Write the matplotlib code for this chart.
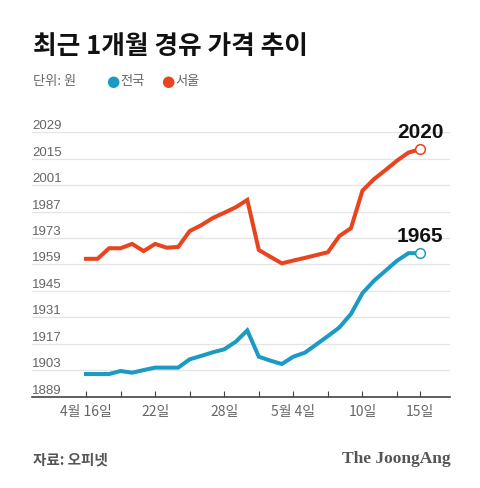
import matplotlib.pyplot as plt
import pandas as pd

plt.rcParams['font.family'] = ['Noto Sans CJK KR', 'DejaVu Sans']

# 날짜 (4월 16일 ~ 5월 15일, 매일)
dates = pd.date_range('2022-04-16', '2022-05-15')

# 서울 경유 가격 (원)
seoul = [1962, 1962, 1967.6, 1967.6, 1969.9, 1966.1, 1969.9, 1967.9, 1968.3, 1976.7,
         1979.8, 1983.6, 1986.4, 1989.3, 1993.2, 1966.7, 1963.1, 1959.6, 1961.1, 1962.5,
         1964, 1965.5, 1974.1, 1978.2, 1998.1, 2004.2, 2009, 2014, 2018.3, 2020]

# 전국 경유 가격 (원)
national = [1901, 1901, 1901, 1902.6, 1901.7, 1903.1, 1904.4, 1904.4, 1904.4, 1908.8,
            1910.6, 1912.5, 1914.1, 1918.1, 1924.1, 1910.2, 1908.1, 1906.3, 1910.2, 1912.3,
            1916.7, 1921.1, 1925.7, 1932.8, 1943.8, 1950.4, 1955.7, 1961, 1965, 1965]

yticks = [1889, 1903, 1917, 1931, 1945, 1959, 1973, 1987, 2001, 2015, 2029]
xtick_dates = pd.to_datetime(['2022-04-16', '2022-04-19', '2022-04-22', '2022-04-25',
                              '2022-04-28', '2022-05-01', '2022-05-04', '2022-05-07',
                              '2022-05-10', '2022-05-13', '2022-05-15'])
xtick_labels = ['4월 16일', '', '22일', '', '28일', '', '5월 4일', '', '10일', '', '15일']

red = '#e8441e'
blue = '#1b9bc4'
grey = '#666666'

W, H = 480, 488
fig = plt.figure(figsize=(W / 100, H / 100), dpi=100)

# 축 위치 (픽셀 기준)
left, right, top, bottom = 32, 450, 132.3, 396.7
ax = fig.add_axes([left / W, 1 - bottom / H, (right - left) / W, (bottom - top) / H])

ax.plot(dates, national, color=blue, lw=2.9, solid_joinstyle='miter', zorder=3)
ax.plot(dates, seoul, color=red, lw=2.9, solid_joinstyle='miter', zorder=3)

# 끝점 마커
ax.plot(dates[-1], national[-1], 'o', ms=7, mfc='white', mec=blue, mew=1.1, clip_on=False, zorder=4)
ax.plot(dates[-1], seoul[-1], 'o', ms=7, mfc='white', mec=red, mew=1.1, clip_on=False, zorder=4)
ax.annotate(f'{seoul[-1]}', (dates[-1], seoul[-1]), xytext=(0, 5), textcoords='offset points',
            ha='center', va='bottom', fontsize=15, fontweight='bold', color='#111111',
            family='Liberation Sans', annotation_clip=False)
ax.annotate(f'{national[-1]}', (dates[-1], national[-1]), xytext=(0, 5), textcoords='offset points',
            ha='center', va='bottom', fontsize=15, fontweight='bold', color='#111111',
            family='Liberation Sans', annotation_clip=False)

ax.set_ylim(1889, 2029)
ax.set_xlim(dates[0] - pd.Timedelta(days=4.69), dates[0] + pd.Timedelta(days=31.6))

ax.set_yticks(yticks)
ax.set_yticklabels([])
ax.tick_params(axis='y', length=0)
ax.grid(axis='y', color='#e4e4e4', lw=0.9)
for v in yticks:
    ax.text(0, v, str(v), transform=ax.get_yaxis_transform(), ha='left', va='bottom',
            fontsize=9.5, color=grey, family='Liberation Sans')

ax.set_xticks(xtick_dates)
ax.set_xticklabels(xtick_labels, fontsize=10, color=grey)
ax.tick_params(axis='x', direction='in', length=4, width=0.8, color='#444444', pad=6)

for s in ['top', 'right', 'left']:
    ax.spines[s].set_visible(False)
ax.spines['bottom'].set_color('#444444')
ax.spines['bottom'].set_linewidth(1.2)
ax.set_facecolor('none')

# 제목과 범례
fig.text(33 / W, 1 - 47 / H, '최근 1개월 경유 가격 추이', fontsize=18.5, fontweight='bold',
         color='#111111', va='center', ha='left')
fig.text(33 / W, 1 - 82 / H, '단위: 원', fontsize=9.5, color=grey, va='center', ha='left')
fig.text(113 / W, 1 - 82 / H, '●', fontsize=11, color=blue, va='center', ha='center', family='DejaVu Sans')
fig.text(120 / W, 1 - 82 / H, '전국', fontsize=9.5, color=grey, va='center', ha='left')
fig.text(168 / W, 1 - 82 / H, '●', fontsize=11, color=red, va='center', ha='center', family='DejaVu Sans')
fig.text(175 / W, 1 - 82 / H, '서울', fontsize=9.5, color=grey, va='center', ha='left')

# 출처
fig.text(33 / W, 1 - 460 / H, '자료: 오피넷', fontsize=10.5, fontweight='bold', color='#555555',
         va='center', ha='left')
fig.text(451 / W, 1 - 459 / H, 'The JoongAng', fontsize=12.5, fontweight='bold', color='#555555',
         va='center', ha='right', family='Liberation Serif')

fig.savefig('out.png', dpi=100)
